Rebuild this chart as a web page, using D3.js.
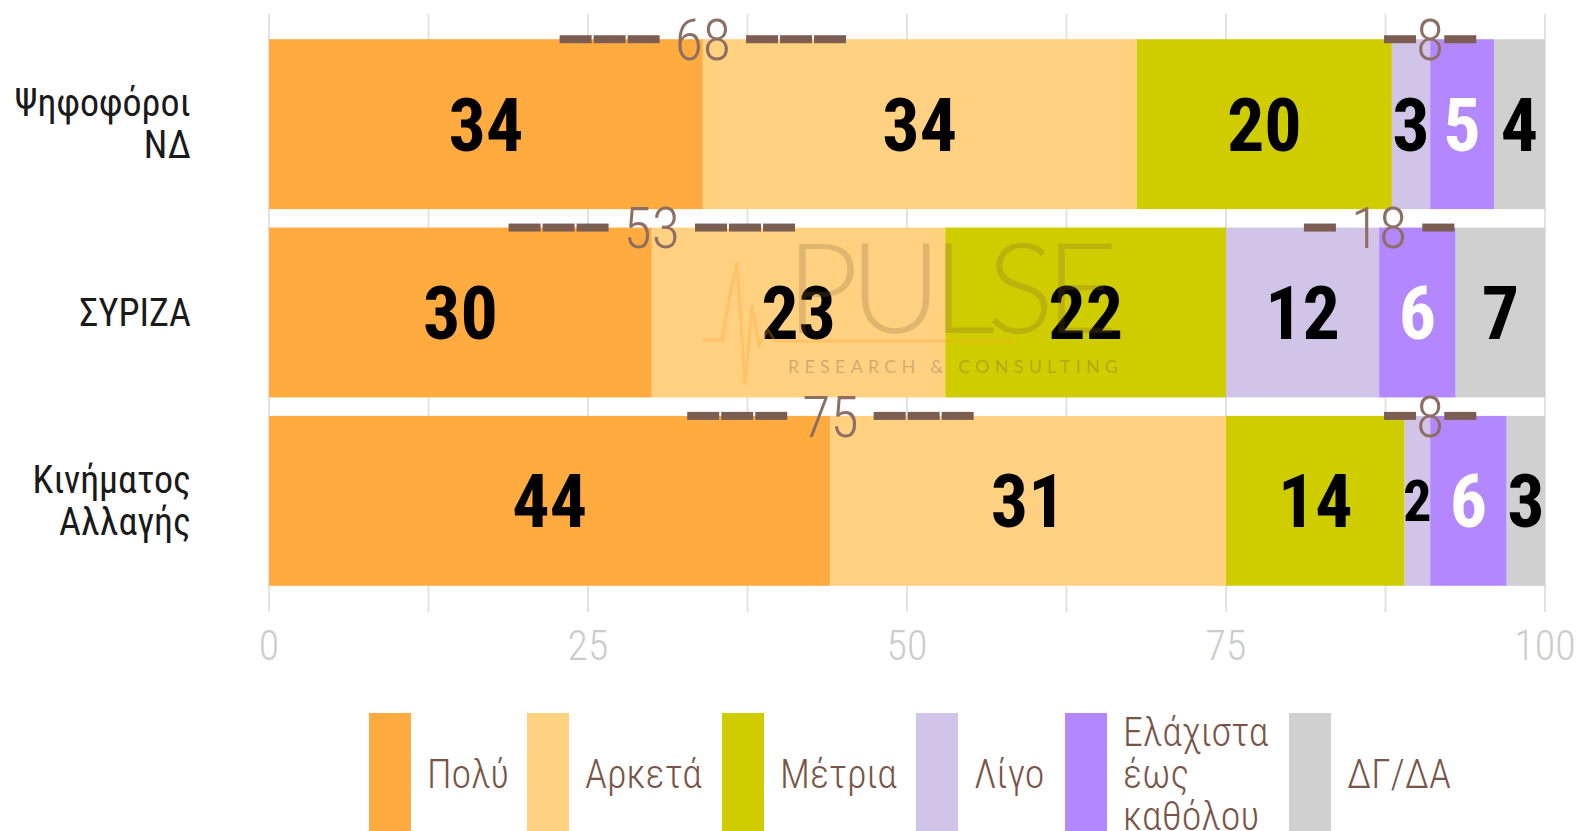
<!DOCTYPE html>
<html>
<head>
<meta charset="utf-8">
<script src="https://cdn.jsdelivr.net/npm/d3@7"></script>
<style>
body { margin: 0; background: #fff; }
svg { display: block; }
.narrow { font-family: 'Roboto Condensed', 'Liberation Sans Narrow', 'Arial Narrow', 'DejaVu Sans Condensed', sans-serif; }
</style>
</head>
<body>
<svg id="chart" width="1580" height="831"></svg>
<script>
// categories (each entry = lines of the label)
const categories = [['Ψηφοφόροι', 'ΝΔ'], ['ΣΥΡΙΖΑ'], ['Κινήματος', 'Αλλαγής']]
const seriesNames = ['Πολύ', 'Αρκετά', 'Μέτρια', 'Λίγο', 'Ελάχιστα έως καθόλου', 'ΔΓ/ΔΑ']
const legendLines = [['Πολύ'], ['Αρκετά'], ['Μέτρια'], ['Λίγο'], ['Ελάχιστα', 'έως', 'καθόλου'], ['ΔΓ/ΔΑ']]
const colors = ['#ffab40', '#ffd180', '#cfcd00', '#d1c4e9', '#b388ff', '#d0d0d0']

const polu = [34, 30, 44]
const arketa = [34, 23, 31]
const metria = [20, 22, 14]
const ligo = [3, 12, 2]
const elaxista = [5, 6, 6]
const dgda = [4, 7, 3]

// summary labels as written on the chart
const sumTop = ['▬▬▬ 68 ▬▬▬', '▬▬▬ 53 ▬▬▬', '▬▬▬ 75 ▬▬▬']
const sumLow = ['▬8▬', '▬ 18 ▬', '▬8▬']

const xTicks = [0, 25, 50, 75, 100]
const gridTicks = [0, 12.5, 25, 37.5, 50, 62.5, 75, 87.5, 100]

const svg = d3.select('#chart')

const x = d3.scaleLinear().domain([0, 100]).range([269, 1545])
const y = d3.scaleBand()
    .domain(d3.range(categories.length))
    .range([30, 595])
    .paddingInner(0.098)
    .paddingOuter(0.049)

const seriesValues = [polu, arketa, metria, ligo, elaxista, dgda]
const rows = categories.map((c, i) => {
    const r = { i }
    seriesNames.forEach((s, k) => { r[s] = seriesValues[k][i] })
    return r
})
const stacked = d3.stack().keys(seriesNames)(rows)

// grid
svg.append('g')
    .attr('class', 'grid')
    .selectAll('line')
    .data(gridTicks)
    .join('line')
    .attr('x1', d => x(d))
    .attr('x2', d => x(d))
    .attr('y1', y.range()[0] - 16)
    .attr('y2', y.range()[1] + 17)
    .attr('stroke', '#e2e2e2')
    .attr('stroke-width', 2)

// x tick labels
svg.append('g')
    .selectAll('text')
    .data(xTicks)
    .join('text')
    .attr('class', 'narrow')
    .attr('x', d => x(d))
    .attr('y', 660)
    .attr('text-anchor', 'middle')
    .attr('font-size', 42)
    .attr('font-weight', 300)
    .attr('fill', '#cccccc')
    .text(d => d)

// bars
const gSeries = svg.append('g')
    .selectAll('g')
    .data(stacked)
    .join('g')
    .attr('fill', (d, k) => colors[k])

gSeries.selectAll('rect')
    .data(d => d)
    .join('rect')
    .attr('x', d => x(d[0]))
    .attr('y', (d, i) => y(i))
    .attr('width', d => x(d[1]) - x(d[0]))
    .attr('height', y.bandwidth())

// watermark
const wm = svg.append('g').attr('class', 'watermark')
wm.append('path')
    .attr('d', 'M703,340 L722,340 L729,300 L737,262 L745,385 L752,305 L759,345 L768,330 L775,341 L1012,341')
    .attr('fill', 'none')
    .attr('stroke', 'rgba(255,160,40,0.3)')
    .attr('stroke-width', 3)
wm.append('text')
    .attr('x', 786)
    .attr('y', 333)
    .attr('textLength', 332)
    .attr('lengthAdjust', 'spacing')
    .attr('font-family', 'Lato, "Open Sans", sans-serif')
    .attr('font-weight', 300)
    .attr('font-size', 126)
    .attr('fill', 'rgba(130,100,50,0.25)')
    .text('PULSE')
wm.append('text')
    .attr('x', 788)
    .attr('y', 373)
    .attr('textLength', 330)
    .attr('lengthAdjust', 'spacing')
    .attr('font-family', 'Lato, "Open Sans", sans-serif')
    .attr('font-size', 18)
    .attr('fill', 'rgba(120,100,80,0.35)')
    .text('RESEARCH & CONSULTING')

// segment value labels
const labelSize = 74
gSeries.selectAll('text')
    .data((d, k) => d.map((v, i) => ({ v, i, k, val: v[1] - v[0] })))
    .join('text')
    .attr('class', 'narrow')
    .attr('x', d => (x(d.v[0]) + x(d.v[1])) / 2)
    .attr('text-anchor', 'middle')
    .attr('font-weight', 700)
    .attr('font-size', labelSize)
    .attr('fill', d => d.k === 4 ? '#ffffff' : '#000000')
    .text(d => d.val)
    .each(function (d) {
        // shrink a label only when it would not fit its segment
        const segW = x(d.v[1]) - x(d.v[0])
        const len = this.getComputedTextLength()
        let fs = labelSize
        if (len > segW * 1.12) fs = labelSize * segW * 1.12 / len
        d3.select(this)
            .attr('font-size', fs)
            .attr('y', y(d.i) + y.bandwidth() / 2 + fs * 0.36)
    })

// summary labels (▬ ▬ N ▬ ▬)
function parseSum (s) {
    const m = s.match(/^(▬*)(\s?)(\d+)(\s?)(▬*)$/)
    return { left: m[1].length, sp: m[2].length > 0, num: m[3], right: m[5].length }
}
const sums = []
sumTop.forEach((s, i) => sums.push({ ...parseSum(s), i, cx: x(stacked[0][i][1]) }))
sumLow.forEach((s, i) => sums.push({ ...parseSum(s), i, cx: x(stacked[3][i][1]) }))

const dashW = 32
const dashGap = 2
const dashH = 8
const spaceW = 15
const gSum = svg.append('g').attr('class', 'sums')
sums.forEach(d => {
    const cy = y(d.i)
    const t = gSum.append('text')
        .attr('class', 'narrow')
        .attr('x', d.cx)
        .attr('y', cy + 58 * 0.36)
        .attr('text-anchor', 'middle')
        .attr('font-size', 58)
        .attr('font-weight', 300)
        .attr('fill', '#8d6e63')
        .text(d.num)
    const w = t.node().getComputedTextLength()
    const off = w / 2 + (d.sp ? spaceW : 0)
    d3.range(d.left).forEach(k => {
        gSum.append('rect')
            .attr('x', d.cx - off - (k + 1) * dashW - k * dashGap)
            .attr('y', cy - dashH / 2)
            .attr('width', dashW)
            .attr('height', dashH)
            .attr('fill', '#7b5d52')
    })
    d3.range(d.right).forEach(k => {
        gSum.append('rect')
            .attr('x', d.cx + off + k * (dashW + dashGap))
            .attr('y', cy - dashH / 2)
            .attr('width', dashW)
            .attr('height', dashH)
            .attr('fill', '#7b5d52')
    })
})

// y labels
svg.append('g')
    .selectAll('text')
    .data(categories)
    .join('text')
    .attr('class', 'narrow')
    .attr('text-anchor', 'end')
    .attr('font-size', 38)
    .attr('fill', '#1a1a1a')
    .each(function (lines, i) {
        const lh = 42
        const cy = y(i) + y.bandwidth() / 2
        const y0 = cy - (lines.length - 1) * lh / 2 + 13
        d3.select(this).selectAll('tspan')
            .data(lines)
            .join('tspan')
            .attr('x', 191)
            .attr('y', (l, j) => y0 + j * lh)
            .text(l => l)
    })

// legend
const legendX = [369, 527, 722, 916, 1065, 1289]
const legend = svg.append('g')
    .selectAll('g')
    .data(legendLines)
    .join('g')
    .attr('transform', (d, k) => `translate(${legendX[k]},713)`)
legend.append('rect')
    .attr('width', 42)
    .attr('height', 140)
    .attr('fill', (d, k) => colors[k])
legend.append('text')
    .attr('class', 'narrow')
    .attr('font-size', 40)
    .attr('font-weight', 300)
    .attr('fill', '#795548')
    .each(function (lines) {
        const lh = 42
        const y0 = 61 - (lines.length - 1) * lh / 2 + 14
        d3.select(this).selectAll('tspan')
            .data(lines)
            .join('tspan')
            .attr('x', 58)
            .attr('y', (l, j) => y0 + j * lh)
            .text(l => l)
    })
</script>
</body>
</html>
